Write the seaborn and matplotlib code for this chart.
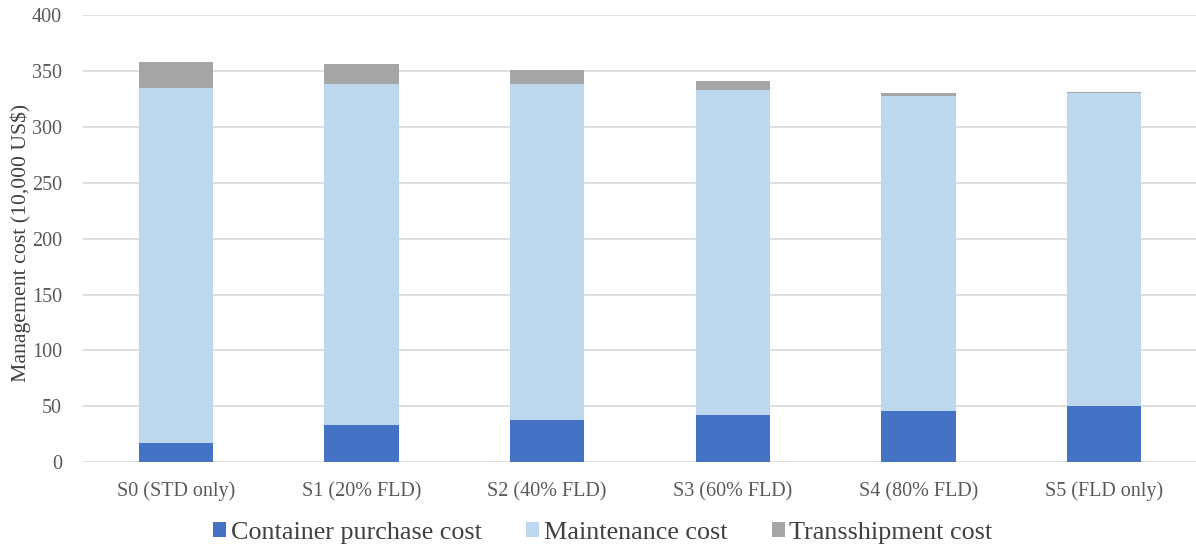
import matplotlib
matplotlib.use("Agg")
import matplotlib.pyplot as plt
from matplotlib.patches import Patch
import seaborn as sns
import pandas as pd
import numpy as np

# Scenario categories and cost components (10,000 US$)
scenarios = ["S0 (STD only)", "S1 (20% FLD)", "S2 (40% FLD)",
             "S3 (60% FLD)", "S4 (80% FLD)", "S5 (FLD only)"]
container_purchase = [17.2, 33.6, 38.0, 42.0, 46.1, 50.5]
maintenance = [317.9, 305.1, 300.0, 291.3, 281.6, 279.5]
transshipment = [22.6, 17.5, 13.2, 7.4, 2.7, 1.2]
series_names = ["Container purchase cost", "Maintenance cost", "Transshipment cost"]
colors = ["#4472c4", "#bdd7ee", "#a5a5a5"]
y_ticks = [0, 50, 100, 150, 200, 250, 300, 350, 400]

sns.set_style("white")
plt.rcParams["font.family"] = ["Liberation Serif", "DejaVu Serif"]

df = pd.DataFrame({
    "scenario": scenarios,
    "c": container_purchase,
    "m": maintenance,
    "t": transshipment,
})
df["cm"] = df["c"] + df["m"]
df["total"] = df["cm"] + df["t"]

fig = plt.figure(figsize=(11.96, 5.46), dpi=100)
ax = fig.add_axes([83 / 1196, (546 - 462.3) / 546, 1114 / 1196, (462.3 - 15) / 546])

# Stacked bars drawn as cumulative layers, top layer first
for col, color in zip(["total", "cm", "c"], colors[::-1]):
    sns.barplot(data=df, x="scenario", y=col, color=color, width=0.4,
                saturation=1, linewidth=0, ax=ax, zorder=3)

ax.set_ylim(0, 400)
ax.set_yticks(y_ticks)
ax.set_xlim(-0.5, 5.5)
ax.yaxis.grid(True, color="#d9d9d9", linewidth=1.2, zorder=0)
ax.set_axisbelow(True)
for side in ["top", "right", "left", "bottom"]:
    ax.spines[side].set_visible(False)
ax.tick_params(axis="both", length=0, labelsize=14.5, colors="#595959")
ax.tick_params(axis="y", pad=15)
ax.tick_params(axis="x", pad=14)
ax.set_xlabel("")
ax.set_ylabel("Management cost (10,000 US$)", fontsize=15.7, color="#404040")
ax.yaxis.set_label_coords(-0.0467, 0.49)

handles = [Patch(facecolor=c, edgecolor="none") for c in colors]
fig.legend(handles, series_names, loc="center", bbox_to_anchor=(603 / 1196, (546 - 533) / 546),
           ncol=3, frameon=False, fontsize=18.8, handlelength=0.49, handleheight=0.49,
           handletextpad=0.18, columnspacing=1.7, labelcolor="#404040",
           borderpad=0, borderaxespad=0)

fig.savefig("out.png", dpi=100)
